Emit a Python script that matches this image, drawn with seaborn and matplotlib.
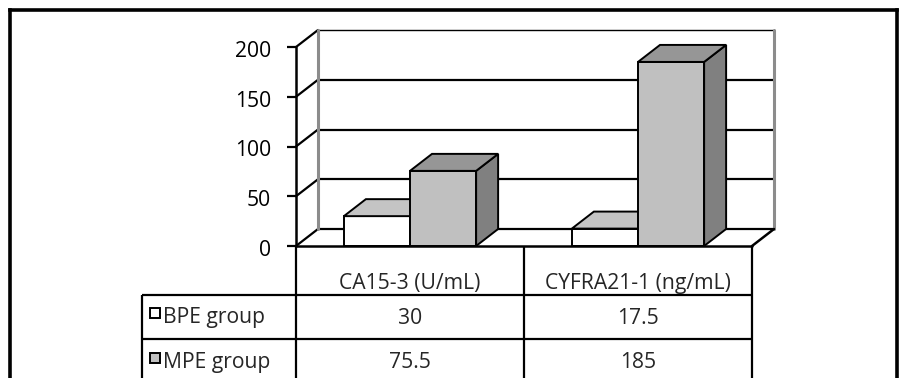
import matplotlib
matplotlib.use("Agg")
import matplotlib.pyplot as plt
import matplotlib.transforms as mtransforms
from matplotlib.patches import Polygon, Rectangle
import pandas as pd
import seaborn as sns

# ---- data -------------------------------------------------------------
markers = ["CA15-3 (U/mL)", "CYFRA21-1 (ng/mL)"]
groups = ["BPE group", "MPE group"]
bpe_values = [30, 17.5]
mpe_values = [75.5, 185]
bpe_labels = ["30", "17.5"]
mpe_labels = ["75.5", "185"]
y_ticks = [0, 50, 100, 150, 200]

# ---- styling ----------------------------------------------------------
front_colors = ["#ffffff", "#c0c0c0"]
top_colors = ["#c4c4c4", "#969696"]
side_colors = ["#a0a0a0", "#808080"]
wall_edge = "#8c8c8c"
FS = 15.2

sns.set_theme(style="white")
plt.rcParams["font.family"] = ["Open Sans", "DejaVu Sans"]

W, H = 905, 378
fig = plt.figure(figsize=(W / 100, H / 100), dpi=100)

# front plane of the pseudo-3D plot (pixels)
px_left, px_right = 296, 752
px_base, px_top = 246, 47
ax = fig.add_axes([px_left / W, (H - px_base) / H,
                   (px_right - px_left) / W, (px_base - px_top) / H])
ax.set_facecolor("none")

df = pd.DataFrame({
    "marker": markers * 2,
    "group": [groups[0]] * len(markers) + [groups[1]] * len(markers),
    "value": bpe_values + mpe_values,
})
sns.barplot(data=df, x="marker", y="value", hue="group", order=markers,
            hue_order=groups, palette=front_colors, saturation=1, width=0.58,
            edgecolor="black", linewidth=1.4, errorbar=None, legend=False, ax=ax)
ax.set_xlim(-0.5, 1.5)
ax.set_ylim(0, 200)
ax.set_axis_off()

# depth of the 3-D box expressed in data units
ux = (px_right - px_left) / 2.0          # pixels per category
uy = (px_base - px_top) / 200.0          # pixels per value unit
ddx = 22 / ux
ddy = 17 / uy
xl, xr = -0.5, 1.5

# back wall gridlines, wall edges and the slanted ticks
for t in y_ticks:
    lw = 1.0 if t == y_ticks[-1] else 1.6
    ax.plot([xl + ddx, xr + ddx], [t + ddy, t + ddy], color="black", lw=lw,
            zorder=1, clip_on=False, solid_capstyle="butt")
    ax.plot([xl, xl + ddx], [t, t + ddy], color="black", lw=1.6,
            zorder=1, clip_on=False)
    ax.plot([xl - 9 / ux, xl], [t, t], color="black", lw=1.6,
            zorder=1, clip_on=False, solid_capstyle="butt")
for xe in (xl + ddx, xr + ddx):
    ax.plot([xe, xe], [ddy, y_ticks[-1] + ddy], color=wall_edge, lw=2.2,
            zorder=1, clip_on=False)

# floor outline and the front value axis
ax.plot([xl, xr], [0, 0], color="black", lw=1.8, zorder=8, clip_on=False)
ax.plot([xr, xr + ddx], [0, ddy], color="black", lw=1.8, zorder=1, clip_on=False)
ax.plot([xl, xl], [0, y_ticks[-1]], color="black", lw=1.8, zorder=8, clip_on=False)

# value labels of the axis
lab_tr = mtransforms.offset_copy(ax.transData, fig=fig, x=-25, y=-10, units="dots")
for t in y_ticks:
    ax.text(xl, t, str(t), transform=lab_tr, ha="right", va="baseline",
            fontsize=FS, color="black")

# top and side faces of every bar
for g, cont in enumerate(ax.containers):
    for bar in cont:
        x, w, h = bar.get_x(), bar.get_width(), bar.get_height()
        z = 3 + 2 * g
        bar.set_zorder(z)
        top = Polygon([(x, h), (x + w, h), (x + w + ddx, h + ddy), (x + ddx, h + ddy)],
                      closed=True, facecolor=top_colors[g], edgecolor="black",
                      lw=1.4, zorder=z + 0.5, clip_on=False)
        side = Polygon([(x + w, 0), (x + w, h), (x + w + ddx, h + ddy), (x + w + ddx, ddy)],
                       closed=True, facecolor=side_colors[g], edgecolor="black",
                       lw=1.4, zorder=z + 0.5, clip_on=False)
        ax.add_patch(side)
        ax.add_patch(top)

# ---- data table underneath (pixel coordinates) -------------------------
tab = fig.add_axes([0, 0, 1, 1])
tab.set_facecolor("none")
tab.set_xlim(0, W)
tab.set_ylim(H, 0)
tab.set_axis_off()

centers = [ax.transData.transform((i, 0))[0] for i in range(len(markers))]
bounds = [ax.transData.transform((xl + i, 0))[0] for i in range(len(markers) + 1)]
row_left = 142
row_lines = [295, 339]
line_kw = dict(color="black", lw=1.6, solid_capstyle="butt")

for bx in bounds:
    tab.plot([bx, bx], [px_base, H + 2], **line_kw)
tab.plot([row_left, row_left], [row_lines[0], H + 2], **line_kw)
for ry in row_lines:
    tab.plot([row_left, bounds[-1]], [ry, ry], **line_kw)

for cx, name in zip(centers, markers):
    tab.text(cx, 289, name, ha="center", va="baseline", fontsize=FS)
for cx, s in zip(centers, bpe_labels):
    tab.text(cx, 324, s, ha="center", va="baseline", fontsize=FS)
for cx, s in zip(centers, mpe_labels):
    tab.text(cx, 368, s, ha="center", va="baseline", fontsize=FS)

# row headers with their colour keys
for key_y, base_y, name, col in zip([308, 353], [323, 368], groups, front_colors):
    tab.add_patch(Rectangle((150, key_y), 10, 10, facecolor=col,
                            edgecolor="black", lw=1.4))
    tab.text(163, base_y, name, ha="left", va="baseline", fontsize=FS)

# outer frame
frame_kw = dict(color="black", lw=2.6, solid_capstyle="projecting")
tab.plot([10, 897], [10, 10], **frame_kw)
tab.plot([10, 10], [10, H + 5], **frame_kw)
tab.plot([897, 897], [10, H + 5], **frame_kw)

fig.savefig("out.png", dpi=100)
